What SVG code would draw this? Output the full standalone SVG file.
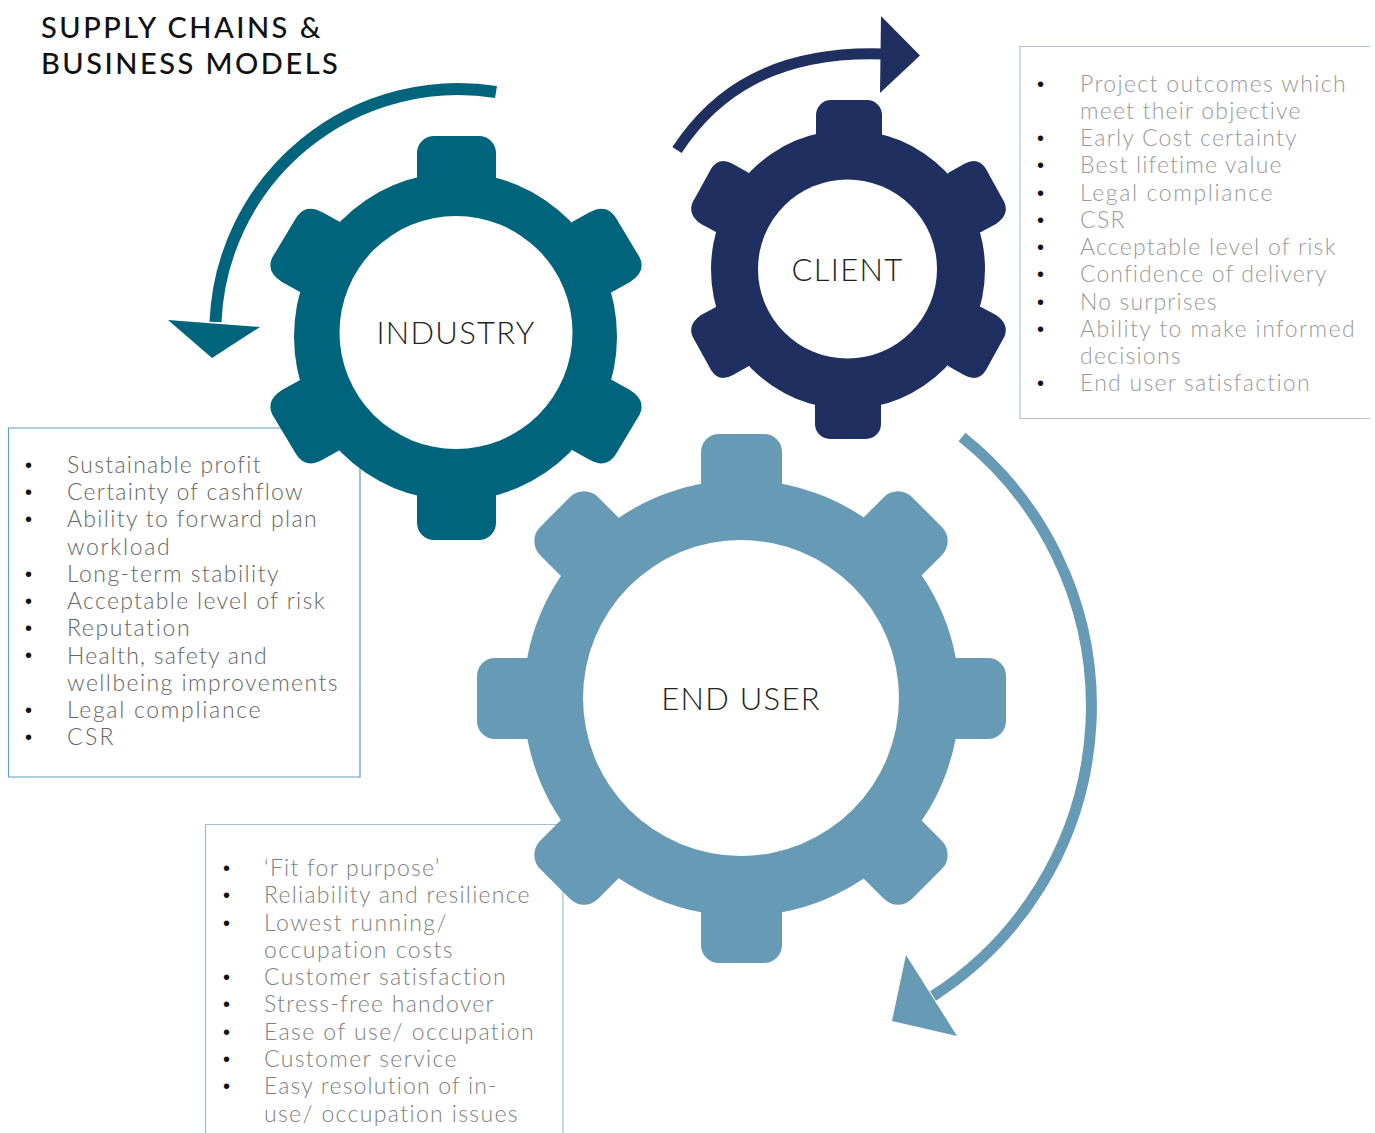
<svg xmlns="http://www.w3.org/2000/svg" width="1375" height="1133" viewBox="0 0 1375 1133">
<style>
text{font-family:"Lato","Liberation Sans",sans-serif}
.t{font-size:23px;font-weight:300;fill:#666;letter-spacing:1.42px}
.e{fill:#808080}
.f{fill:#999}
.b{font-size:20px;fill:#111;font-family:"Liberation Sans",sans-serif}
.g{font-size:31px;font-weight:300;fill:#222;text-anchor:middle;letter-spacing:1.3px}
.h{font-size:29px;font-weight:500;fill:#111;letter-spacing:2.5px}
.box{fill:#fff;stroke-width:1.2}
.ind{fill:#00647d}.cli{fill:#1f3060}.usr{fill:#679bb5}
.arc{fill:none}
</style>
<defs>
<path id="tooth-ind" d="M340,222L322,212Q305,203 296,218L275,253Q263,270 282,282L300,292L380,320Z"/>
<path id="tooth-cli" d="M749,173L733,164Q719,156 711,169L695,198Q685,213 701,224L716,232L780,250Z"/>
<rect id="tooth-usr" x="700" y="435" width="82" height="80" rx="20"/>
</defs>
<rect width="1375" height="1133" fill="#fff"/>
<g id="title"><text class="h" x="41" y="38">SUPPLY CHAINS &amp;</text><text class="h" x="41" y="74">BUSINESS MODELS</text></g>
<g id="box-industry">
<path class="box" stroke="#5e9db5" d="M360,428H8.500V777H360Z"/>
<text class="b" x="25" y="472">•</text><text class="b" x="25" y="499">•</text><text class="b" x="25" y="526">•</text><text class="b" x="25" y="581">•</text><text class="b" x="25" y="608">•</text><text class="b" x="25" y="635">•</text><text class="b" x="25" y="662">•</text><text class="b" x="25" y="717">•</text><text class="b" x="25" y="744">•</text>
<text class="t" x="67" y="473" textLength="195">Sustainable profit</text>
<text class="t" x="67" y="500" textLength="237">Certainty of cashflow</text>
<text class="t" x="67" y="527" textLength="251">Ability to forward plan</text>
<text class="t" x="67" y="555" textLength="104">workload</text>
<text class="t" x="67" y="582" textLength="213">Long-term stability</text>
<text class="t" x="67" y="609" textLength="259">Acceptable level of risk</text>
<text class="t" x="67" y="636" textLength="124">Reputation</text>
<text class="t" x="67" y="664" textLength="201">Health, safety and</text>
<text class="t" x="67" y="691" textLength="272">wellbeing improvements</text>
<text class="t" x="67" y="718" textLength="195">Legal compliance</text>
<text class="t" x="67" y="745" textLength="48">CSR</text>
</g>
<g id="box-client">
<path class="box" stroke="#b4bdd4" d="M1370,46.500H1020V418.500H1370"/>
<text class="b" x="1037" y="91">•</text><text class="b" x="1037" y="145">•</text><text class="b" x="1037" y="172">•</text><text class="b" x="1037" y="200">•</text><text class="b" x="1037" y="227">•</text><text class="b" x="1037" y="254">•</text><text class="b" x="1037" y="281">•</text><text class="b" x="1037" y="309">•</text><text class="b" x="1037" y="336">•</text><text class="b" x="1037" y="390">•</text>
<text class="t f" x="1080" y="92" textLength="267">Project outcomes which</text>
<text class="t f" x="1080" y="119" textLength="222">meet their objective</text>
<text class="t f" x="1080" y="146" textLength="218">Early Cost certainty</text>
<text class="t f" x="1080" y="173" textLength="203">Best lifetime value</text>
<text class="t f" x="1080" y="201" textLength="194">Legal compliance</text>
<text class="t f" x="1080" y="228" textLength="46">CSR</text>
<text class="t f" x="1080" y="255" textLength="257">Acceptable level of risk</text>
<text class="t f" x="1080" y="282" textLength="248">Confidence of delivery</text>
<text class="t f" x="1080" y="310" textLength="138">No surprises</text>
<text class="t f" x="1080" y="337" textLength="276">Ability to make informed</text>
<text class="t f" x="1080" y="364" textLength="102">decisions</text>
<text class="t f" x="1080" y="391" textLength="231">End user satisfaction</text>
</g>
<g id="box-enduser">
<path class="box" stroke="#9cc0d0" d="M205.500,1133V824.500H563V1133"/>
<text class="b" x="223" y="875">•</text><text class="b" x="223" y="902">•</text><text class="b" x="223" y="930">•</text><text class="b" x="223" y="984">•</text><text class="b" x="223" y="1011">•</text><text class="b" x="223" y="1039">•</text><text class="b" x="223" y="1066">•</text><text class="b" x="223" y="1093">•</text>
<text class="t e" x="264" y="876" textLength="177">‘Fit for purpose’</text>
<text class="t e" x="264" y="903" textLength="267">Reliability and resilience</text>
<text class="t e" x="264" y="931" textLength="184">Lowest running/</text>
<text class="t e" x="264" y="958" textLength="190">occupation costs</text>
<text class="t e" x="264" y="985" textLength="243">Customer satisfaction</text>
<text class="t e" x="264" y="1012" textLength="231">Stress-free handover</text>
<text class="t e" x="264" y="1040" textLength="271">Ease of use/ occupation</text>
<text class="t e" x="264" y="1067" textLength="194">Customer service</text>
<text class="t e" x="264" y="1094" textLength="234">Easy resolution of in-</text>
<text class="t e" x="264" y="1122" textLength="255">use/ occupation issues</text>
</g>
<g id="gear-industry" class="ind">
<ellipse cx="455.500" cy="336.500" rx="161.500" ry="164"/>
<rect x="417" y="136" width="79" height="70" rx="17"/>
<rect x="417" y="470" width="79" height="70" rx="17"/>
<use href="#tooth-ind"/>
<use href="#tooth-ind" transform="translate(912,0) scale(-1,1)"/>
<use href="#tooth-ind" transform="translate(0,672) scale(1,-1)"/>
<use href="#tooth-ind" transform="translate(912,672) scale(-1,-1)"/>
<circle cx="456" cy="332.500" r="116.500" fill="#fff"/>
<text class="g" x="456" y="344">INDUSTRY</text>
</g>
<g id="gear-enduser" class="usr">
<circle cx="741.500" cy="698" r="218"/>
<rect x="701" y="434" width="81" height="80" rx="18"/>
<rect x="701" y="883" width="81" height="80" rx="18"/>
<rect x="477" y="658" width="80" height="81" rx="18"/>
<rect x="926" y="658" width="80" height="81" rx="18"/>
<use href="#tooth-usr" transform="rotate(45 741 698)"/>
<use href="#tooth-usr" transform="rotate(135 741 698)"/>
<use href="#tooth-usr" transform="rotate(225 741 698)"/>
<use href="#tooth-usr" transform="rotate(315 741 698)"/>
<circle cx="741" cy="698" r="158" fill="#fff"/>
<text class="g" x="741" y="710">END USER</text>
</g>
<g id="gear-client" class="cli">
<ellipse cx="848" cy="269.500" rx="137" ry="139.500"/>
<rect x="816" y="100" width="66" height="60" rx="15"/>
<rect x="815" y="379" width="66" height="60" rx="15"/>
<use href="#tooth-cli"/>
<use href="#tooth-cli" transform="translate(1697,0) scale(-1,1)"/>
<use href="#tooth-cli" transform="translate(0,539) scale(1,-1)"/>
<use href="#tooth-cli" transform="translate(1697,539) scale(-1,-1)"/>
<circle cx="847.500" cy="269" r="89.500" fill="#fff"/>
<text class="g" x="847.500" y="281">CLIENT</text>
</g>
<g id="connectors">
<path class="arc" stroke="#00647d" stroke-width="12" d="M496,92A243,243 0 0 0 215.500,322"/>
<polygon class="ind" points="168,320 260,327 212,358"/>
<path class="arc" stroke="#1f3060" stroke-width="11" d="M677,150C715,92 775,51 882,54"/>
<polygon class="cli" points="881,16 920,55.500 880,93"/>
<path class="arc" stroke="#679bb5" stroke-width="11" d="M962,437A344.500,344.500 0 0 1 933,996"/>
<polygon class="usr" points="906,955 957,1036 892,1021"/>
</g>
</svg>
